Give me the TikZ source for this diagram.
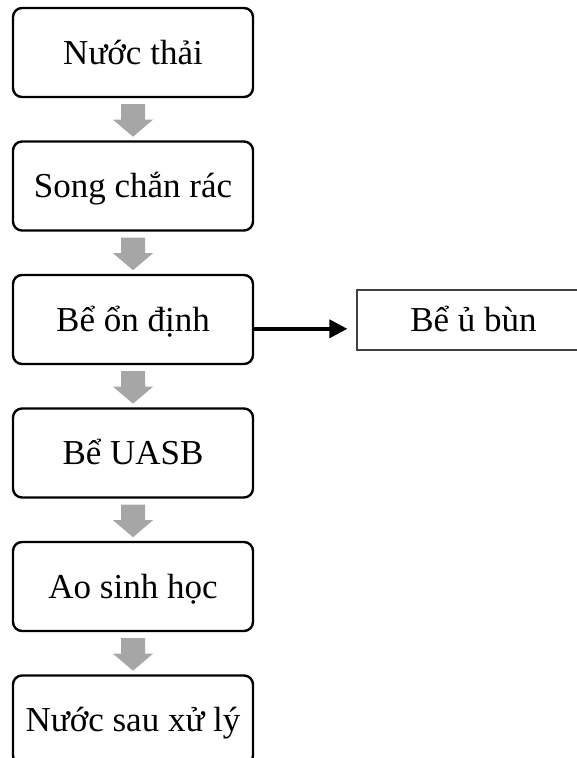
\documentclass[tikz,border=0pt]{standalone}
\usepackage{fontspec}
\setmainfont{Liberation Serif}
\usetikzlibrary{calc,arrows.meta}

\tikzset{
  stage/.style={draw=black, line width=2.4pt, rounded corners=9pt, fill=white,
    minimum width=240pt, minimum height=89pt, inner sep=0pt,
    text height=23pt, text depth=0pt,
    font=\fontsize{35}{42}\selectfont},
  sidebox/.style={draw=black!75, line width=1.3pt, fill=white,
    minimum width=233pt, minimum height=60pt, inner sep=0pt,
    text height=23pt, text depth=0pt,
    font=\fontsize{35}{42}\selectfont},
  flow/.style={fill=black!35, draw=none},
  link/.style={line width=3.6pt, -{Triangle[length=18pt 0 0,width=18pt 0 0]}}
}

\begin{document}
\begin{tikzpicture}[x=1pt,y=-1pt]
  \useasboundingbox (0,0) rectangle (577,758);
  \clip (0,0) rectangle (577,758);

  % process chain, one stage every 133.5pt
  \node[stage] (b1) at (133,52.5)  {Nước thải};
  \node[stage] (b2) at (133,186)   {Song chắn rác};
  \node[stage] (b3) at (133,319.5) {Bể ổn định};
  \node[stage] (b4) at (133,453)   {Bể UASB};
  \node[stage] (b5) at (133,586.5) {Ao sinh học};
  \node[stage] (b6) at (133,720)   {Nước sau xử lý};

  % side branch for the sludge
  \node[sidebox] (sl) at (473.5,320) {Bể ủ bùn};

  % grey block arrows between consecutive stages
  \foreach \a in {b1,b2,b3,b4,b5}{
    \fill[flow]
      ($(\a.south)+(-12,6)$) -- ($(\a.south)+(12,6)$) --
      ($(\a.south)+(12,21.5)$) -- ($(\a.south)+(20,21.5)$) --
      ($(\a.south)+(0,38.5)$) --
      ($(\a.south)+(-20,21.5)$) -- ($(\a.south)+(-12,21.5)$) -- cycle;
  }

  % branch connector
  \coordinate (from) at ($(b3.north east)+(0,55)$);
  \draw[link] (from) -- ($(sl.west |- from)+(-9,0)$);
\end{tikzpicture}
\end{document}
